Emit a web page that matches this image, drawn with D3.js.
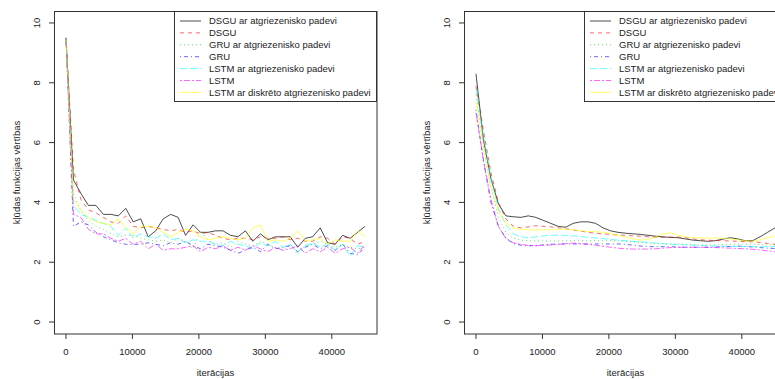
<!DOCTYPE html>
<html>
<head>
<meta charset="utf-8">
<script src="https://cdn.jsdelivr.net/npm/d3@7"></script>
<style>
  body { margin: 0; background: #fff; }
  svg text { font-family: "Liberation Sans", Arial, sans-serif; fill: #222; }
</style>
</head>
<body>
<div id="chart"></div>
<script>
// iteracijas (x)
const iterations = [0, 1125, 2250, 3375, 4500, 5625, 6750, 7875, 9000, 10125,
  11250, 12375, 13500, 14625, 15750, 16875, 18000, 19125, 20250, 21375,
  22500, 23625, 24750, 25875, 27000, 28125, 29250, 30375, 31500, 32625,
  33750, 34875, 36000, 37125, 38250, 39375, 40500, 41625, 42750, 43875, 45000];

const seriesNames = [
  'DSGU ar atgriezenisko padevi',
  'DSGU',
  'GRU ar atgriezenisko padevi',
  'GRU',
  'LSTM ar atgriezenisko padevi',
  'LSTM',
  'LSTM ar diskrēto atgriezenisko padevi'
];

// kreisais grafiks - neapstradatas vertibas
const rawDsguFb = [9.5, 4.75, 4.3, 3.9, 3.9, 3.6, 3.6, 3.55, 3.8, 3.35, 3.45, 2.85, 3.05, 3.45, 3.6, 3.5, 2.9, 3.25, 3.0, 3.0,
  3.05, 3.05, 2.9, 2.85, 3.05, 2.7, 2.95, 2.75, 2.85, 2.85, 2.85, 2.5, 2.8, 2.85, 3.15, 2.65, 2.6, 2.9, 2.8, 3.0, 3.2];
const rawDsgu = [9.5, 5.1, 4.1, 3.75, 3.65, 3.5, 3.35, 3.3, 3.55, 3.2, 3.15, 3.2, 3.15, 3.1, 3.05, 3.1, 3.0, 3.05, 2.95, 3.0,
  2.9, 2.8, 2.75, 2.8, 2.8, 2.75, 2.85, 2.8, 2.8, 2.85, 2.75, 2.8, 2.7, 2.7, 2.85, 2.8, 2.6, 2.85, 2.8, 2.6, 2.7];
const rawGruFb = [9.5, 4.3, 3.7, 3.4, 3.2, 3.1, 2.95, 2.85, 2.9, 2.9, 2.8, 2.75, 2.7, 2.75, 2.65, 2.8, 2.7, 2.45, 3.05, 2.75,
  2.6, 2.65, 2.5, 2.7, 2.6, 2.55, 2.7, 2.6, 2.5, 2.4, 2.6, 2.25, 2.55, 2.6, 2.7, 2.6, 2.5, 2.6, 2.5, 2.45, 2.5];
const rawGru = [9.5, 3.2, 3.35, 3.25, 3.0, 2.85, 2.75, 2.65, 2.6, 2.6, 2.6, 2.65, 2.6, 2.55, 2.65, 2.6, 2.7, 2.55, 2.45, 2.6,
  2.55, 2.5, 2.4, 2.3, 2.4, 2.5, 2.35, 2.6, 2.45, 2.5, 2.55, 2.35, 2.5, 2.6, 2.45, 2.55, 2.4, 2.6, 2.3, 2.25, 2.5];
const rawLstmFb = [9.5, 3.9, 3.6, 3.5, 3.4, 3.3, 3.2, 2.9, 3.15, 2.8, 2.95, 2.85, 2.8, 2.95, 2.75, 2.8, 2.65, 2.75, 2.7, 2.7,
  2.6, 2.55, 2.7, 2.6, 2.55, 2.45, 2.65, 2.55, 2.7, 2.5, 2.6, 2.35, 2.55, 2.65, 2.5, 2.6, 2.4, 2.6, 2.2, 2.55, 2.5];
const rawLstm = [9.5, 3.6, 3.5, 3.1, 2.95, 2.95, 2.8, 2.7, 2.8, 2.6, 2.7, 2.45, 2.6, 2.4, 2.45, 2.45, 2.5, 2.55, 2.35, 2.5,
  2.45, 2.55, 2.4, 2.5, 2.4, 2.55, 2.45, 2.35, 2.5, 2.4, 2.45, 2.55, 2.3, 2.45, 2.35, 2.5, 2.3, 2.45, 2.5, 2.3, 2.6];
const rawLstmDisc = [9.5, 4.1, 3.75, 3.5, 3.35, 3.3, 3.25, 3.45, 3.15, 2.95, 3.2, 3.2, 3.15, 3.0, 2.85, 3.0, 3.1, 3.05, 2.85, 2.75,
  2.8, 2.85, 2.8, 2.75, 2.8, 3.15, 3.25, 2.7, 2.75, 2.7, 2.8, 3.05, 2.7, 2.75, 2.8, 2.6, 2.75, 2.7, 2.7, 3.05, 2.85];

// labais grafiks - izlidzinatas vertibas
const smDsguFb = [8.3, 6.1, 4.8, 3.95, 3.55, 3.52, 3.5, 3.55, 3.5, 3.4, 3.3, 3.2, 3.17, 3.3, 3.35, 3.35, 3.3, 3.15, 3.05, 3.0,
  2.97, 2.95, 2.93, 2.9, 2.87, 2.85, 2.83, 2.82, 2.78, 2.74, 2.72, 2.7, 2.72, 2.77, 2.82, 2.78, 2.72, 2.72, 2.85, 3.0, 3.15];
const smDsgu = [7.9, 6.4, 5.0, 4.0, 3.45, 3.2, 3.15, 3.18, 3.22, 3.2, 3.18, 3.15, 3.12, 3.08, 3.04, 3.0, 2.97, 2.95, 2.93, 2.91,
  2.9, 2.88, 2.87, 2.85, 2.84, 2.83, 2.84, 2.84, 2.82, 2.78, 2.75, 2.74, 2.72, 2.72, 2.71, 2.7, 2.69, 2.68, 2.66, 2.63, 2.6];
const smGruFb = [7.6, 5.9, 4.5, 3.5, 3.0, 2.8, 2.74, 2.72, 2.71, 2.71, 2.71, 2.71, 2.72, 2.72, 2.72, 2.72, 2.72, 2.72, 2.72, 2.71,
  2.7, 2.68, 2.66, 2.64, 2.63, 2.62, 2.61, 2.61, 2.6, 2.59, 2.58, 2.58, 2.58, 2.59, 2.6, 2.61, 2.61, 2.6, 2.59, 2.58, 2.58];
const smGru = [7.1, 5.4, 4.0, 3.2, 2.8, 2.62, 2.57, 2.55, 2.56, 2.58, 2.6, 2.61, 2.61, 2.61, 2.61, 2.61, 2.61, 2.61, 2.61, 2.61,
  2.6, 2.57, 2.54, 2.52, 2.52, 2.52, 2.52, 2.51, 2.5, 2.5, 2.5, 2.5, 2.51, 2.52, 2.53, 2.54, 2.53, 2.51, 2.49, 2.47, 2.46];
const smLstmFb = [7.8, 6.2, 4.8, 3.8, 3.25, 2.95, 2.85, 2.82, 2.85, 2.88, 2.9, 2.91, 2.9, 2.88, 2.86, 2.83, 2.81, 2.79, 2.76, 2.74,
  2.72, 2.7, 2.68, 2.66, 2.64, 2.62, 2.6, 2.59, 2.58, 2.57, 2.56, 2.55, 2.54, 2.54, 2.53, 2.53, 2.52, 2.52, 2.52, 2.52, 2.52];
const smLstm = [7.0, 5.4, 4.1, 3.2, 2.8, 2.65, 2.6, 2.56, 2.55, 2.56, 2.58, 2.6, 2.62, 2.64, 2.62, 2.6, 2.57, 2.53, 2.5, 2.47,
  2.45, 2.44, 2.44, 2.44, 2.45, 2.47, 2.49, 2.5, 2.5, 2.5, 2.5, 2.5, 2.49, 2.48, 2.47, 2.46, 2.45, 2.43, 2.41, 2.38, 2.35];
const smLstmDisc = [7.4, 5.8, 4.5, 3.7, 3.3, 3.15, 3.1, 3.08, 3.08, 3.08, 3.08, 3.1, 3.11, 3.08, 3.05, 3.03, 3.02, 3.0, 2.96, 2.9,
  2.84, 2.78, 2.74, 2.76, 2.84, 2.95, 2.98, 2.9, 2.85, 2.82, 2.81, 2.81, 2.81, 2.8, 2.78, 2.75, 2.72, 2.7, 2.75, 2.82, 2.88];

const xTicks = [0, 10000, 20000, 30000, 40000];
const yTicks = [0, 2, 4, 6, 8, 10];

const colors = ['#000000', '#ff0000', '#00cd00', '#0000ff', '#00ffff', '#ff00ff', '#ffff00'];
const dashes = [null, '4,4', '1,3', '1,3,4,3', '7,3', '2,2,6,2', null];

const leftSeries = [rawDsguFb, rawDsgu, rawGruFb, rawGru, rawLstmFb, rawLstm, rawLstmDisc];
const rightSeries = [smDsguFb, smDsgu, smGruFb, smGru, smLstmFb, smLstm, smLstmDisc];

const W = 775, H = 379;
const svg = d3.select('#chart').append('svg')
  .attr('width', W)
  .attr('height', H);

function drawPanel(offsetX, series) {
  const g = svg.append('g').attr('transform', 'translate(' + offsetX + ',0)');

  // R stila 4% paplasinajums
  const x = d3.scaleLinear().domain([-1800, 46800]).range([54, 377]);
  const y = d3.scaleLinear().domain([-0.4, 10.4]).range([334, 11]);

  // X ass
  g.selectAll('.xt').data(xTicks).enter().append('line')
    .attr('x1', d => x(d)).attr('x2', d => x(d))
    .attr('y1', 334).attr('y2', 339)
    .attr('stroke', '#333');
  g.selectAll('.xl').data(xTicks).enter().append('text')
    .attr('x', d => x(d)).attr('y', 355)
    .attr('text-anchor', 'middle')
    .attr('font-size', 9.5)
    .text(d => d);

  // Y ass
  g.selectAll('.yt').data(yTicks).enter().append('line')
    .attr('x1', 49).attr('x2', 54)
    .attr('y1', d => y(d)).attr('y2', d => y(d))
    .attr('stroke', '#333');
  g.selectAll('.yl').data(yTicks).enter().append('text')
    .attr('transform', d => 'translate(40,' + y(d) + ') rotate(-90)')
    .attr('text-anchor', 'middle')
    .attr('font-size', 9.5)
    .text(d => d);

  g.append('text')
    .attr('x', x(22500)).attr('y', 376)
    .attr('text-anchor', 'middle')
    .attr('font-size', 9.5)
    .text('iterācijas');
  g.append('text')
    .attr('transform', 'translate(20,' + y(5) + ') rotate(-90)')
    .attr('text-anchor', 'middle')
    .attr('font-size', 9.5)
    .text('kļūdas funkcijas vērtības');

  // liknes
  const line = d3.line()
    .x((d, i) => x(iterations[i]))
    .y(d => y(d));

  series.forEach((s, k) => {
    g.append('path')
      .datum(s)
      .attr('fill', 'none')
      .attr('stroke', colors[k])
      .attr('stroke-opacity', k === 0 ? 0.7 : 0.6)
      .attr('stroke-width', 1)
      .attr('stroke-dasharray', dashes[k])
      .attr('d', line);
  });

  // leģenda
  const leg = g.append('g');
  leg.append('rect')
    .attr('x', 174.5).attr('y', 11.5)
    .attr('width', 202).attr('height', 90)
    .attr('fill', '#fff')
    .attr('stroke', '#333');
  seriesNames.forEach((name, k) => {
    const ly = 21 + k * 11.9;
    leg.append('line')
      .attr('x1', 180).attr('x2', 201)
      .attr('y1', ly).attr('y2', ly)
      .attr('stroke', colors[k])
      .attr('stroke-opacity', k === 0 ? 0.7 : 0.6)
      .attr('stroke-dasharray', dashes[k]);
    leg.append('text')
      .attr('x', 209).attr('y', ly + 3.4)
      .attr('font-size', 9.5)
      .text(name);
  });

  // rāmis
  g.append('rect')
    .attr('x', 54.5).attr('y', 11.5)
    .attr('width', 322.5).attr('height', 322.5)
    .attr('fill', 'none')
    .attr('stroke', '#333');
}

drawPanel(0, leftSeries);
drawPanel(410, rightSeries);
</script>
</body>
</html>
